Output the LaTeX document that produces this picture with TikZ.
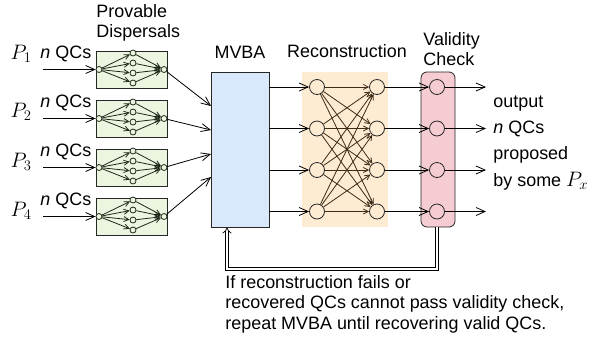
\RequirePackage{fix-cm}
\documentclass[tikz,border=0pt]{standalone}
\usepackage[no-math]{fontspec}
\setmainfont{Liberation Sans}
\usepackage{amsmath}
\usetikzlibrary{arrows.meta}

\definecolor{dispfill}{RGB}{236,245,224}
\definecolor{mvbafill}{RGB}{218,232,252}
\definecolor{recfill}{RGB}{253,235,210}
\definecolor{valfill}{RGB}{244,204,210}
\definecolor{fan}{RGB}{30,40,25}
\definecolor{web}{RGB}{60,45,25}

\begin{document}
\begin{tikzpicture}[x=1bp, y=-1bp, line width=0.8bp,
    font=\fontsize{18}{20.5}\selectfont,
    arr/.style={-{Straight Barb[length=9bp,width=8bp]}},
    sarr/.style={-{Straight Barb[length=5bp,width=5bp]}},
    dot/.style={circle, draw=fan, fill=dispfill, inner sep=0pt, minimum size=6bp, line width=0.8bp},
    ring/.style={circle, draw=black!85, inner sep=0pt, minimum size=15bp},
    txt/.style={inner sep=0pt, align=left},
    proc/.style={font=\fontsize{21}{24}\selectfont, inner sep=0pt}]
  \useasboundingbox (0,0) rectangle (592,341);

  % provable dispersals
  \node[txt, anchor=north west] (disptitle) at (96,4) {Provable\\Dispersals};
  \foreach \i/\y/\py in {1/69.5/59, 2/118.5/117, 3/167.5/167, 4/216.5/216} {
    \node[draw=black!85, fill=dispfill, minimum width=71bp, minimum height=37bp, inner sep=0pt] (D\i) at (131.5,\y) {};
    \node[dot] (L\i) at (99,\y) {};
    \node[dot] (R\i) at (164,\y) {};
    \foreach \k/\d in {1/-16.5, 2/-6.5, 3/3.5, 4/13.5} {
      \node[dot] (M\i\k) at (133,\y+\d) {};
      \draw[fan, sarr] (L\i) -- (M\i\k);
      \draw[fan, sarr] (M\i\k) -- (R\i);
    }
    \node[proc, anchor=base] (P\i) at (21,\py) {$P_{\i}$};
    \node[anchor=base west, inner sep=0pt] (Q\i) at (40,\y-11) {\textit{n} QCs};
    \coordinate (I\i) at (43,\y);
    \draw[arr] (I\i) -- (L\i);
  }

  % MVBA
  \node[anchor=base] (mvbatitle) at (240,58) {MVBA};
  \node[draw=black!85, fill=mvbafill, minimum width=58bp, minimum height=155bp, inner sep=0pt] (mvba) at (240,149.5) {};
  \foreach \i/\y in {1/106, 2/130, 3/154, 4/177} {
    \coordinate (E\i) at (211,\y);
    \draw[arr] (R\i) -- (E\i);
  }

  % reconstruction and validity check
  \node[anchor=base] (rectitle) at (347,57) {Reconstruction};
  \node[fill=recfill, minimum width=86bp, minimum height=155bp, inner sep=0pt] (rec) at (345,149.5) {};
  \node[txt, anchor=north west] (valtitle) at (423,32) {Validity\\Check};
  \node[draw=black!85, fill=valfill, rounded corners=6bp, minimum width=34bp, minimum height=155bp, inner sep=0pt] (valid) at (438,149.5) {};
  \foreach \k/\y in {1/87, 2/128.5, 3/170, 4/211.5} {
    \node[ring] (A\k) at (317,\y) {};
    \node[ring] (B\k) at (377,\y) {};
    \node[ring] (V\k) at (437,\y) {};
    \coordinate (O\k) at (486,\y);
    \draw[arr] (mvba.east |- A\k) -- (A\k);
    \draw[arr] (B\k) -- (V\k);
    \draw[arr] (V\k) -- (O\k);
  }
  \foreach \k in {1,...,4} {
    \foreach \j in {1,...,4} {
      \draw[web, sarr] (A\k) -- (B\j);
    }
  }
  \node[txt, anchor=north west, font=\fontsize{18}{26.5}\selectfont] (outtxt) at (493,95) {output\\\textit{n} QCs\\proposed\\by some {\fontsize{21}{24}\selectfont$P_x$}};

  % retry loop
  \coordinate (fb1) at (437,269);
  \coordinate (fb2) at (227,269);
  \draw[double, double distance=2.4bp, line width=0.7bp, -{Implies}] (V4 |- valid.south) -- (fb1) -- (fb2) -- (mvba.south -| fb2);
  \node[txt, anchor=north west] (retry) at (225,275) {If reconstruction fails or\\recovered QCs cannot pass validity check,\\repeat MVBA until recovering valid QCs.};
\end{tikzpicture}
\end{document}
